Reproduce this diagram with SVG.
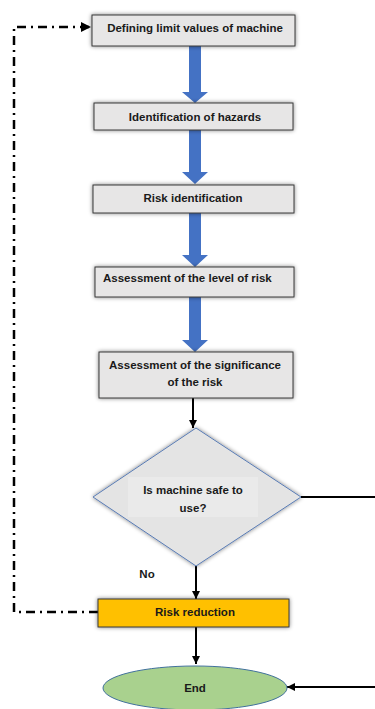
<svg xmlns="http://www.w3.org/2000/svg" width="375" height="709" viewBox="0 0 375 709">
<style>
.box{fill:#E7E6E6;stroke:#3A3A3A;stroke-width:1}
.t{font-family:"Liberation Sans",Arial,sans-serif;font-weight:bold;font-size:11.5px;fill:#1a1a1a}
.c{text-anchor:middle}
.blue{fill:#4472C4}
.ln{stroke:#000;stroke-width:2;fill:none}
.dd{stroke:#000;stroke-width:2.5;fill:none;stroke-dasharray:9,5,2,5}
</style>
<defs>
<filter id="sh" x="-10%" y="-30%" width="120%" height="160%">
<feGaussianBlur in="SourceAlpha" stdDeviation="2"/>
<feOffset dx="0" dy="0" result="b"/>
<feComponentTransfer><feFuncA type="linear" slope="0.5"/></feComponentTransfer>
<feMerge><feMergeNode/><feMergeNode in="SourceGraphic"/></feMerge>
</filter>
<marker id="ah" viewBox="0 0 10 10" refX="10" refY="5" markerWidth="4" markerHeight="4" orient="auto">
<path d="M0,0L10,5L0,10z" fill="#000"/>
</marker>
</defs>
<g id="connectors">
<path class="blue" d="M189,46H201V92H208L195,103L182,92H189Z"/>
<path class="blue" d="M189,130H201V172H208L195,184L182,172H189Z"/>
<path class="blue" d="M189,213H201V255H208L195,267L182,255H189Z"/>
<path class="blue" d="M189,297H201V340H208L195,352L182,340H189Z"/>
<line class="ln" x1="193" y1="398" x2="193" y2="428" marker-end="url(#ah)"/>
<line class="ln" x1="196" y1="566" x2="196" y2="599" marker-end="url(#ah)"/>
<line class="ln" x1="196" y1="627" x2="196" y2="664" marker-end="url(#ah)"/>
<line class="ln" x1="301" y1="497" x2="375" y2="497"/>
<line class="ln" x1="375" y1="687" x2="287" y2="687" marker-end="url(#ah)"/>
<path class="dd" d="M98,612H14V27H91" marker-end="url(#ah)"/>
<text class="t c" x="147" y="578">No</text>
</g>
<g id="n1"><rect class="box" x="92" y="15" width="203" height="31" filter="url(#sh)"/><text class="t c" x="195" y="32">Defining limit values of machine</text></g>
<g id="n2"><rect class="box" x="94" y="103" width="199" height="27" filter="url(#sh)"/><text class="t c" x="195" y="121">Identification of hazards</text></g>
<g id="n3"><rect class="box" x="93" y="185" width="201" height="28" filter="url(#sh)"/><text class="t c" x="193" y="202">Risk identification</text></g>
<g id="n4"><rect class="box" x="95" y="267" width="199" height="30" filter="url(#sh)"/><text class="t" x="103" y="282">Assessment of the level of risk</text></g>
<g id="n5"><rect class="box" x="99" y="352" width="194" height="46" filter="url(#sh)"/><text class="t c" x="195" y="369">Assessment of the significance</text><text class="t c" x="195" y="386">of the risk</text></g>
<g id="n6"><path d="M196,428L301,497L196,566L93,497Z" fill="#E4E4E4" stroke="#5B7DB5" stroke-width="1" filter="url(#sh)"/><rect x="128" y="477" width="130" height="40" fill="#EAEAEA"/><text class="t c" x="193" y="494">Is machine safe to</text><text class="t c" x="193" y="512">use?</text></g>
<g id="n7"><rect x="98" y="599" width="191" height="28" fill="#FFC000" stroke="#3A3A3A" stroke-width="1" filter="url(#sh)"/><text class="t c" x="195" y="616">Risk reduction</text></g>
<g id="n8"><ellipse cx="195" cy="688" rx="92" ry="22" fill="#A9D18E" stroke="#41719C" stroke-width="1"/><text class="t c" x="195" y="692">End</text></g>
</svg>
